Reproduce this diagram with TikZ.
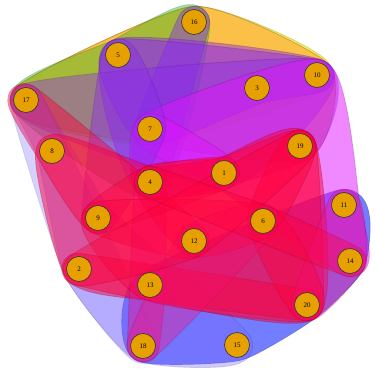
\documentclass[tikz,border=0pt]{standalone}
\usepackage{fontspec}
\setmainfont{Liberation Serif}
\definecolor{nodefill}{RGB}{230,160,0}
\definecolor{hred}{RGB}{255,0,60}
\definecolor{hpink}{RGB}{240,20,140}
\definecolor{hmag}{RGB}{225,20,255}
\definecolor{hpur}{RGB}{140,40,240}
\definecolor{hblue}{RGB}{20,40,255}
\definecolor{hlav}{RGB}{120,100,255}
\definecolor{horange}{RGB}{255,170,60}
\definecolor{hgreen}{RGB}{60,180,40}
\definecolor{hyellow}{RGB}{240,240,0}
% #1 colour, #2 opacity, #3 coordinate list
\newcommand\hyp[3]{%
  \begin{scope}[transparency group, opacity=#2]
    \draw[#1!75!black, line width=32pt, line join=round, line cap=round]
      plot[smooth cycle, tension=0.3] coordinates {#3};
    \filldraw[#1, line width=30pt, line join=round, line cap=round]
      plot[smooth cycle, tension=0.3] coordinates {#3};
  \end{scope}}
\tikzset{vert/.style={circle, fill=nodefill, draw=black!80, line width=0.6pt,
  minimum size=25pt, inner sep=0pt, font=\fontsize{7}{7}\selectfont}}
\begin{document}
\begin{tikzpicture}[x=1pt, y=-1pt]
\useasboundingbox (0,0) rectangle (374,374);
\def\Pa{(224,173)}  \def\Pb{(79,269)}   \def\Pc{(257,88)}  \def\Pd{(150,182)}
\def\Pe{(118,55)}   \def\Pf{(263,221)}  \def\Pg{(150,129)} \def\Ph{(52,151)}
\def\Pi{(98,218)}   \def\Pj{(317,75)}   \def\Pk{(344,205)} \def\Pl{(194,241)}
\def\Pm{(150,285)}  \def\Pn{(350,261)}  \def\Po{(237,345)} \def\Pp{(194,22)}
\def\Pq{(26,100)}   \def\Pr{(143,346)}  \def\Ps{(300,146)} \def\Pt{(307,305)}
% hyperedges
\hyp{hyellow}{.6}{\Pq \Pp \Pj \Pg}
\hyp{horange}{.7}{\Pq \Pp \Pj \Ps \Pg}
\hyp{hgreen}{.45}{\Pq \Pe \Pp \Pd}
\hyp{hblue}{.6}{\Pr \Pm \Pk \Pn \Pt \Po}
\hyp{hlav}{.35}{\Pq \Ph \Pb \Pr \Po \Pi}
\hyp{hpur}{.45}{\Pp \Pd \Pg}
\hyp{hpur}{.45}{\Pe \Pj \Ps \Pd}
\hyp{hpur}{.45}{\Pe \Pj \Pc \Pg}
\hyp{hpur}{.4}{\Pq \Pj \Pa}
\hyp{hmag}{.5}{\Pg \Pj \Pk \Pn \Pa}
\hyp{hmag}{.5}{\Pg \Pa \Pd}
\hyp{hpur}{.4}{\Pe \Pg \Pi}
\hyp{hlav}{.3}{\Pq \Pb \Pr}
\hyp{hred}{.5}{\Ph \Pd \Pa \Ps \Pt \Pm \Pb}
\hyp{hpink}{.55}{\Pc \Pf}
\hyp{hred}{.5}{\Pi \Pl}
\hyp{hred}{.45}{\Pb \Pt \Pm}
\hyp{hred}{.45}{\Pq \Pl \Pi \Ph}
\hyp{hpink}{.45}{\Pr \Pd \Pm}
\hyp{hpur}{.45}{\Po \Pf}
\hyp{hred}{.45}{\Ps \Pt \Pf}
\hyp{hpink}{.45}{\Pk \Pn \Pt}
\hyp{hred}{.45}{\Pd \Pa \Ps \Pf \Pl}
\hyp{hred}{.4}{\Pi \Pd \Pa}
\hyp{hpink}{.4}{\Pr \Pl \Pf}
\hyp{hred}{.4}{\Pi \Pf \Pt \Pm}
\hyp{hred}{.4}{\Pb \Pl \Ps}
\hyp{hred}{.4}{\Pd \Pf \Pn}
% vertices
\foreach \i/\p in {1/\Pa,2/\Pb,3/\Pc,4/\Pd,5/\Pe,6/\Pf,7/\Pg,8/\Ph,9/\Pi,10/\Pj,
  11/\Pk,12/\Pl,13/\Pm,14/\Pn,15/\Po,16/\Pp,17/\Pq,18/\Pr,19/\Ps,20/\Pt}
  {\node[vert] (n\i) at \p {\i};}
\end{tikzpicture}
\end{document}
